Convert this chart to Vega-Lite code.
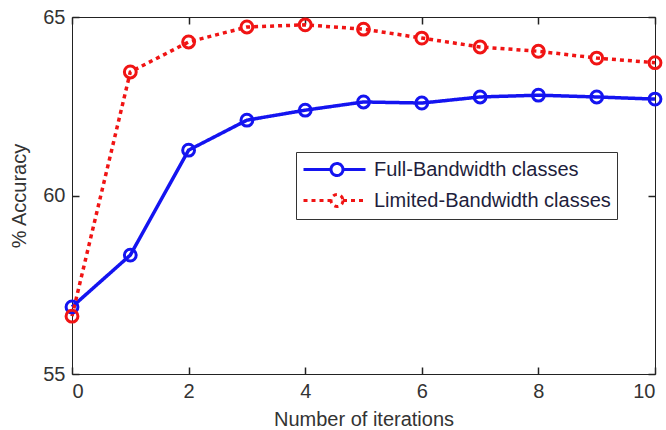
{
  "$schema": "https://vega.github.io/schema/vega-lite/v6.json",
  "width": 583,
  "height": 357,
  "autosize": {"type": "none"},
  "padding": {"left": 72, "top": 17, "right": 11, "bottom": 56},
  "background": "white",
  "config": {
    "font": "Liberation Sans",
    "view": {"stroke": "#222222", "strokeWidth": 1},
    "axis": {"grid": false, "domain": false, "zindex": 1, "tickColor": "#222222", "tickSize": -7, "tickWidth": 1.5, "labelFontSize": 20, "labelColor": "#333333", "titleFontSize": 20, "titleFontWeight": "normal", "titleColor": "#333333", "labelFont": "Liberation Sans", "titleFont": "Liberation Sans"}
  },
  "data": {"values": [
    {"iter": 0, "acc": 56.88, "series": "Full-Bandwidth classes"},
    {"iter": 1, "acc": 58.33, "series": "Full-Bandwidth classes"},
    {"iter": 2, "acc": 61.27, "series": "Full-Bandwidth classes"},
    {"iter": 3, "acc": 62.11, "series": "Full-Bandwidth classes"},
    {"iter": 4, "acc": 62.39, "series": "Full-Bandwidth classes"},
    {"iter": 5, "acc": 62.62, "series": "Full-Bandwidth classes"},
    {"iter": 6, "acc": 62.59, "series": "Full-Bandwidth classes"},
    {"iter": 7, "acc": 62.76, "series": "Full-Bandwidth classes"},
    {"iter": 8, "acc": 62.81, "series": "Full-Bandwidth classes"},
    {"iter": 9, "acc": 62.76, "series": "Full-Bandwidth classes"},
    {"iter": 10, "acc": 62.70, "series": "Full-Bandwidth classes"},
    {"iter": 0, "acc": 56.62, "series": "Limited-Bandwidth classes"},
    {"iter": 1, "acc": 63.46, "series": "Limited-Bandwidth classes"},
    {"iter": 2, "acc": 64.30, "series": "Limited-Bandwidth classes"},
    {"iter": 3, "acc": 64.72, "series": "Limited-Bandwidth classes"},
    {"iter": 4, "acc": 64.78, "series": "Limited-Bandwidth classes"},
    {"iter": 5, "acc": 64.66, "series": "Limited-Bandwidth classes"},
    {"iter": 6, "acc": 64.41, "series": "Limited-Bandwidth classes"},
    {"iter": 7, "acc": 64.16, "series": "Limited-Bandwidth classes"},
    {"iter": 8, "acc": 64.04, "series": "Limited-Bandwidth classes"},
    {"iter": 9, "acc": 63.85, "series": "Limited-Bandwidth classes"},
    {"iter": 10, "acc": 63.72, "series": "Limited-Bandwidth classes"}
  ]},
  "layer": [
    {
      "mark": {"type": "line", "strokeWidth": 3.5},
      "encoding": {
        "x": {"field": "iter", "type": "quantitative", "scale": {"domain": [0, 10], "nice": false},
          "axis": {"orient": "bottom", "values": [0, 2, 4, 6, 8, 10], "title": "Number of iterations", "labelPadding": 14, "titlePadding": 8}},
        "y": {"field": "acc", "type": "quantitative", "scale": {"domain": [55, 65], "nice": false, "zero": false},
          "axis": {"orient": "left", "values": [55, 60, 65], "title": "% Accuracy", "labelPadding": 14, "titlePadding": 13}},
        "color": {"field": "series", "type": "nominal",
          "scale": {"domain": ["Full-Bandwidth classes", "Limited-Bandwidth classes"], "range": ["#1414f0", "#f01414"]},
          "legend": {"title": null, "orient": "none", "legendX": 224, "legendY": 135, "strokeColor": "#333333", "fillColor": "white", "padding": 6,
            "symbolType": "M-1,0H1.75M2.95,0H5.2M2.95,0A0.6,0.6 0 1 1 1.75,0A0.6,0.6 0 1 1 2.95,0", "symbolSize": 400, "symbolStrokeWidth": 3, "symbolFillColor": "transparent",
            "labelFontSize": 20, "labelColor": "#1e1e3c", "labelOffset": 49, "labelLimit": 0, "rowPadding": 6, "labelFont": "Liberation Sans"}},
        "strokeDash": {"field": "series", "type": "nominal",
          "scale": {"domain": ["Full-Bandwidth classes", "Limited-Bandwidth classes"], "range": [[1, 0], [4, 4]]}}
      }
    },
    {
      "mark": {"type": "point", "shape": "circle", "filled": false, "size": 140, "strokeWidth": 3, "opacity": 1},
      "encoding": {
        "x": {"field": "iter", "type": "quantitative", "axis": {"orient": "top", "values": [0, 2, 4, 6, 8, 10], "labels": false, "title": null}},
        "y": {"field": "acc", "type": "quantitative", "axis": {"orient": "right", "values": [55, 60, 65], "labels": false, "title": null}},
        "color": {"field": "series", "type": "nominal", "legend": null}
      }
    }
  ],
  "resolve": {"axis": {"x": "independent", "y": "independent"}}
}
